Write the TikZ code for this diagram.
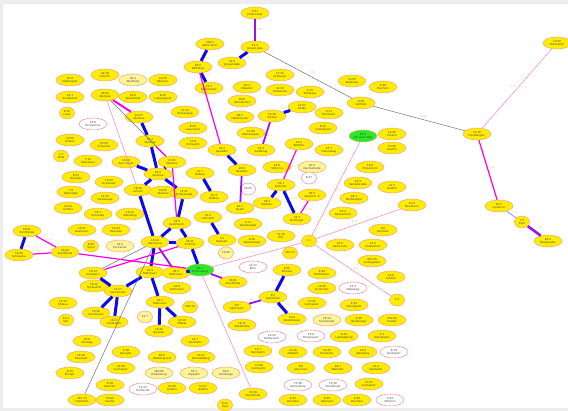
\documentclass[tikz,border=0pt]{standalone}
\usepackage{fontspec}
\setsansfont{DejaVu Sans}
\usetikzlibrary{shapes.geometric}
\definecolor{stfill}{RGB}{255,236,0}
\definecolor{stline}{RGB}{245,165,120}
\definecolor{palefill}{RGB}{255,244,150}
\definecolor{voidline}{RGB}{240,140,150}
\definecolor{hubfill}{RGB}{40,235,40}
\definecolor{bluline}{RGB}{10,10,235}
\definecolor{violine}{RGB}{150,20,240}
\definecolor{magline}{RGB}{255,0,230}
\definecolor{pnkline}{RGB}{255,130,180}
\definecolor{wtcol}{RGB}{255,180,110}

\begin{document}
\begin{tikzpicture}[x=1pt, y=-1pt,
    st/.style={ellipse, draw=stline, line width=0.5pt, fill=stfill, minimum width=28pt,
      minimum height=12pt, inner sep=0.2pt, align=center, text=black!75,
      font=\sffamily\fontsize{2.7}{3.2}\selectfont},
    sm/.style={st, minimum width=15pt},
    pale/.style={st, fill=palefill},
    psm/.style={pale, minimum width=15pt},
    void/.style={st, fill=white, draw=voidline},
    vsm/.style={void, minimum width=15pt},
    hub/.style={st, fill=hubfill},
    blu/.style={draw=bluline, line width=3pt},
    vio/.style={draw=violine, line width=1.8pt},
    vio2/.style={draw=violine, line width=2.6pt},
    mag/.style={draw=magline, line width=1.2pt},
    mag2/.style={draw=magline, line width=2pt},
    pnk/.style={draw=pnkline, line width=0.5pt},
    gry/.style={draw=black!55, line width=0.5pt},
    thinblu/.style={draw=blue!60, line width=0.5pt},
    wt/.style={text=wtcol, inner sep=0.8pt, font=\sffamily\fontsize{2.5}{3}\selectfont}
  ]
  \useasboundingbox (0,0) rectangle (568,411);
  \fill[black!7] (0,0) rectangle (568,411);
  \fill[white] (3,4) rectangle (568,408);

  % stops: name/x/y/look/text
  \foreach \nm/\px/\py/\sty/\tx in {
    n5-21/255/13/st/{5:21\\Johannistal}, n12-3/255/47/st/{12:3\\Jonasstraße},
    n240-4/210/44/st/{240:4\\Albrechtstr.}, n26-6/198/67/st/{26:6\\NKS Bad},
    n22-5/232/63/st/{22:5\\Jonasstraße}, n23-5/209/88/st/{23:5\\Delbrückstr.},
    n22-1/247/87/st/{22:1\\Urbanstr.}, n16-6/242/101/st/{16:6\\Zernsdorfer},
    n28-2/240/117/st/{28:2\\Hohlbuschw.}, n14-36/251/133/st/{14:36\\Weinbergsw.},
    n14-18/272/116/st/{14:18\\Schiller}, n12-15/280/75/st/{12:15\\Grünauer},
    n14-39/280/90/st/{14:39\\Stolpersee}, n9-15/310/92/st/{9:15\\Stillersee},
    n14-22/302/107/st/{14:22\\Heide}, n9-11/329/113/st/{9:11\\Fürstinstr.},
    n8-32b/323/128/st/{8:32\\Ludwigslust}, n14-33/352/81/st/{14:33\\Badeweg},
    n8-36/383/87/st/{8:36\\Puschkin}, n8-20/361/103/st/{8:20\\Gottlieb},
    n26-1g/363/136/hub/{26:1\\Hönower Weg}, n14-36b/392/134/st/{14:36\\Schiller},
    n14-38/477/134/st/{14:38\\Herzbergstr.}, n13-33/557/43/st/{13:33\\Pfarrhufen},
    n20-5/499/206/st/{20:5\\Lindenstr.}, n7-5/522/222/sm/{7:5\\Tilsit},
    n20-4/548/241/st/{20:4\\Bergstraße},
    n24-18/105/75/st/{24:18\\Lilienth.}, n26-8/70/80/st/{26:8\\Stolbergstr.},
    n26-1w/133/80/pale/{26:1\\Wartburg}, n14-1/70/97/st/{14:1\\Sonderfeld},
    n26-29/105/95/st/{26:29\\Quitzow}, n24-6/133/97/st/{24:6\\Romanfeld},
    n8-10/67/113/sm/{8:10\\Lutze}, n22-6/93/124/void/{22:6\\Zu Quitzow},
    n14-27/139/117/st/{14:27\\Quitzow}, n16-33/163/80/st/{16:33\\Ebertstr.},
    n8-32/163/97/st/{8:32\\Ludwigspark}, n14-14/185/112/st/{14:14\\Romanweg},
    n8-35/193/128/st/{8:35\\Lauenstein},
    n16-30/70/140/st/{16:30\\Ermlitz}, n15-29/104/145/st/{15:29\\Schierma},
    n7-1/61/156/sm/{7:1\\Mödl}, n7-12/88/161/st/{7:12\\Habsfeuer},
    n16-29/126/162/st/{16:29\\Zum Kanal}, n8-45/76/177/st/{8:45\\Puschkin},
    n15-23/109/182/st/{15:23\\Victoriastr.}, n7-9/71/192/st/{7:9\\Karlstraße},
    n14-15/105/198/st/{14:15\\Parkanlage}, n14-20/68/208/st/{14:20\\Schiller},
    n33-3/98/214/st/{33:3\\Ermslebe}, n14-24/130/214/st/{14:24\\Odenberg},
    n14-37/82/230/st/{14:37\\Goethestr.}, n14-34/116/230/st/{14:34\\Rohrlake},
    n16-21/27/231/st/{16:21\\Zumflenda}, n8-59/91/246/sm/{8:59\\Schul},
    n16-4p/120/246/pale/{16:4\\Zocherser}, n16-30b/19/255/st/{16:30\\Schleuska},
    n16-20/65/252/st/{16:20\\Zumflenda}, n16-13/93/273/st/{16:13\\Schleuß II},
    n16-2a/150/141/st/{16:2\\Quitzow}, n12-8/193/143/st/{12:8\\Zinnowitz},
    n16-31q/172/162/st/{16:31\\Quitzow}, n16-2/158/174/st/{16:2\\Quitzow},
    n16-28/138/190/st/{16:28\\Lehrter}, n16-32/163/192/st/{16:32\\Quitzow},
    n15-21/184/193/st/{15:21\\Schönwalde}, n25-1/200/173/st/{25:1\\Dölbau},
    n25-3/214/197/st/{25:3\\Dölbau}, n26-4/222/150/st/{26:4\\Neukölln},
    n16-3s/261/150/st/{16:3\\Sandkrug}, n26-8n/242/170/st/{26:8\\Neukölln},
    n14-9/277/167/st/{14:9\\Stöhring}, n16-20w/248/189/vsm/{16:20},
    n16-1g/281/185/st/{16:1\\Grenzstr.}, n26-7/240/208/st/{26:7\\Dobel},
    n28-2h/267/203/st/{28:2\\Haldestr.}, n16-3k/177/223/st/{16:3\\Karolinenh.},
    n22-4/208/217/st/{22:4\\Hohndorf}, n9-11a/248/224/st/{9:11\\Adamkluske},
    n16-34/155/242/st/{16:34\\Rathenow}, n25-11/190/243/st/{25:11\\Zollrietz},
    n5-2/222/240/st/{5:2\\Haldestr.}, n8-26/252/241/st/{8:26\\Adamkluske},
    n13-40/226/253/psm/{13:40}, n26-1s/200/270/hub/{26:1\\Schöneberg},
    n22-13/253/267/void/{22:13\\Bote}, n16-4h/150/272/st/{16:4\\Huthmann},
    n16-1h/176/273/st/{16:1\\Huthmann}, n16-6h/177/288/st/{16:6\\Huthmann},
    n16-1b/160/302/st/{16:1\\Huthmann}, n16-12/94/286/st/{16:12\\Schleuß III},
    n15-17/118/291/st/{15:17\\Sonnenufer}, n16-16/96/313/st/{16:16\\Sonnenufer},
    n16-17/114/322/st/{16:17\\Schleuß III}, n13-13/63/303/st/{13:13\\Stralau},
    n13-2/66/320/sm/{13:2\\Veit}, n16-8/87/341/st/{16:8\\Stolweg},
    n16-10/81/357/st/{16:10\\Neustadt}, n8-25/70/373/st/{8:25\\Kirchpl.},
    n8-38/126/352/st/{8:38\\Georgstr.}, n24-36/121/368/st/{24:36\\Carmenstr.},
    n8-28/110/385/st/{8:28\\Grenzstr.}, n232-23/82/400/st/{232:23\\Friedrichs},
    n14-40/110/400/st/{14:40\\Sonder}, n14-33h/143/389/void/{14:33\\Humboldt},
    n246-30/190/307/sm/{246:30}, n12-7/145/317/psm/{12:7},
    n12-19/182/322/st/{12:19\\Mölkel}, n16-40/159/331/st/{16:40\\Ostseeb.},
    n14-7s/195/341/st/{14:7\\Schöllwitz}, n20-2/162/357/st/{20:2\\Weißengrund},
    n14-27r/201/357/st/{14:27\\Rehwaldweg}, n246-60/159/373/pale/{246:60\\Hindenburg},
    n26-1z/194/373/pale/{26:1\\Zeppelin}, n20-6/226/373/pale/{20:6\\Grünbergs},
    n14-39g/172/388/st/{14:39\\Goethe}, n14-47/203/388/st/{14:47\\Goethe},
    n8-47/225/405/sm/{8:47\\Hals}, n13-19/253/394/st/{13:19\\Zumflenda},
    n16-31z/233/282/st/{16:31\\Zumflenda}, n9-6/237/307/st/{9:6\\Gärtnerstr.},
    n8-5/273/297/st/{8:5\\Gutsdorfer}, n14-11/242/325/st/{14:11\\Waldstraße},
    n14-29/272/337/void/{14:29\\Rathausstr.}, n14-1r/258/351/st/{14:1\\Rennbahn},
    n13-30/259/367/st/{13:30\\Carmenstr.}, n9-20/287/270/st/{9:20\\Emberg},
    n34-2/299/144/st/{34:2\\SK/Petri}, n24-7/329/150/st/{24:7\\Dammweg},
    n13-36/392/148/st/{13:36\\Goethe}, n20-5d/312/167/pale/{20:5\\Dachsstraße},
    n13-6/370/167/st/{13:6\\Finsterhorn}, n8-27/309/178/vsm/{8:27},
    n22-3/358/183/st/{22:3\\Sandelstraße}, n14-7g/392/187/st/{14:7\\Goethe},
    n36-6/312/195/st/{36:6\\Grenzstr. E}, n26-1wb/354/198/st/{26:1\\Wolfsburger},
    n8-22/412/205/st/{8:22\\Neumann}, n34-3/297/219/st/{34:3\\SK-Pfingst.},
    n21-2/343/213/st/{21:2\\Wasserturm}, n14-19/281/236/st/{14:19\\Erb},
    n8-9/383/230/st/{8:9\\Puschkin}, n1-1/309/241/sm/{1:1},
    n23-5k/340/245/st/{23:5\\Karlschule}, n23-4/373/245/st/{23:4\\Holsteinstr.},
    n232-37/290/253/sm/{232:37}, n231-35/372/261/st/{231:35\\Ludwigsfeld},
    n8-49/322/273/st/{8:49\\Mathildestr.}, n14-6/391/277/st/{14:6\\Schiller},
    n14-26/322/288/st/{14:26\\Victoriastr.}, n13-3/353/288/void/{13:3\\Nebeweg},
    n1-4/397/300/sm/{1:4}, n14-31/312/303/st/{14:31\\Carmenstr.},
    n8-39/354/305/st/{8:39\\Georgplatz}, n8-43/292/319/st/{8:43\\Adamkluske},
    n16-14/327/320/pale/{16:14\\Sonnenufer}, n8-36b/359/320/st/{8:36\\Bernburger},
    n231-60/392/320/st/{231:60\\Harder}, n14-6e/311/336/void/{14:6\\Ebnerswerf},
    n8-43l/344/336/st/{8:43\\Ludwigsburg}, n3-1/382/336/st/{3:1\\Habsfeldstr.},
    n14-48/293/352/st/{14:48\\Adalbert}, n14-49/327/352/st/{14:49\\Ermslohe},
    n14-6n/363/352/st/{14:6\\Nürnberg}, n8-19/394/352/void/{8:19\\Gruhenstr.},
    n8-6/301/368/st/{8:6\\Johannstr.}, n20-3/338/368/st/{20:3\\Walterstr.},
    n22-2/376/368/st/{22:2\\Sandelstr.}, n15-38/298/385/void/{15:38\\Dürrenberg},
    n15-18/333/385/void/{15:18\\Zumflenda}, n13-31/369/384/st/{13:31\\Carmenstr.},
    n8-45b/293/400/st/{8:45\\Puschkin}, n8-29/327/400/st/{8:29\\Hermann},
    n9-30/357/400/st/{9:30\\Puschkin}, n3-44/390/400/void/{3:44\\Mortonz}}
    \node[\sty] (\nm) at (\px,\py) {\tx};

  % links: from/to/look/weight
  \foreach \a/\b/\sty/\w in {
    n5-21/n12-3/vio/3.86, n12-3/n22-5/blu/1.3, n240-4/n26-6/blu/2.5,
    n26-6/n23-5/blu/3.6, n26-6/n26-4/mag/3.4, n12-3/n8-20/gry/1.68,
    n8-20/n14-38/gry/11.33, n14-38/n13-33/pnk/3.79, n14-38/n20-5/mag/4.25,
    n20-5/n7-5/thinblu/0.76, n7-5/n20-4/vio2/3.74, n14-18/n14-22/blu/1.0,
    n14-18/n16-3s/vio/1.2, n26-4/n26-8n/blu/2.1, n26-8n/n26-7/vio/1.4,
    n25-1/n25-3/blu/1.9, n22-4/n5-2/blu/2.2, n34-2/n16-1g/mag/1.1,
    n16-1g/n28-2h/blu/1.5, n16-1g/n34-3/blu/1.38, n36-6/n34-3/mag/1.28,
    n26-1g/n1-1/pnk/5.0, n1-1/n8-22/pnk/5.05, n1-1/n1-4/pnk/6.4,
    n26-1s/n1-1/pnk/5.2, n26-1s/n13-19/pnk/{}, n26-1s/n16-31z/vio/1.87,
    n9-6/n8-5/vio/3.8, n8-5/n9-20/blu/1.91, n8-5/n8-43/blu/1.03,
    n26-29/n14-27/mag2/2.3, n26-29/n16-31q/gry/{}, n26-29/n16-28/pnk/{},
    n14-27/n16-2a/blu/{}, n16-2a/n16-31q/mag/{}, n16-29/n16-2/blu/1.2,
    n16-31q/n16-2/blu/{}, n16-2a/n16-2/blu/{}, n16-2/n16-28/blu/1.4,
    n16-2/n15-21/blu/1.6, n15-21/n16-3k/blu/1.7, n16-31q/n16-3k/mag/{},
    n16-28/n16-34/blu/1.9, n16-3k/n16-34/blu/{}, n16-3k/n25-11/blu/{},
    n16-34/n25-11/blu/1.3, n25-11/n26-1s/blu/1.1, n16-34/n16-4h/blu/{},
    n16-34/n16-1h/vio/{}, n16-1h/n26-1s/blu/{}, n16-4h/n16-1b/blu/{},
    n16-1b/n16-40/blu/{}, n16-1b/n12-19/blu/{}, n16-4h/n15-17/blu/{},
    n16-13/n15-17/blu/{}, n15-17/n16-16/blu/1.2, n15-17/n16-17/blu/{},
    n16-21/n16-30b/blu/1.6, n16-21/n16-20/mag/1.13, n16-30b/n16-20/mag/3.01,
    n16-20/n26-1s/mag/{}, n16-13/n16-34/gry/{}, n16-13/n25-11/mag/{},
    n232-23/n16-34/gry/8.46}
    \draw[\sty] (\a) -- node[wt, auto] {\w} (\b);
\end{tikzpicture}
\end{document}
